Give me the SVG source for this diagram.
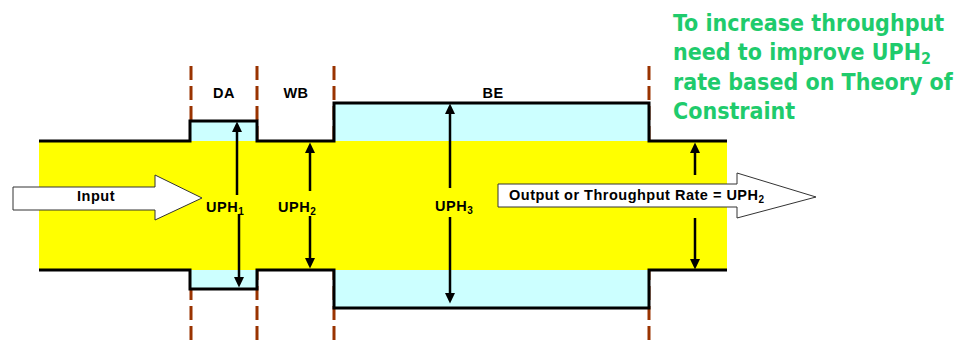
<svg xmlns="http://www.w3.org/2000/svg" width="957" height="343" viewBox="0 0 957 343">
<defs>
<marker id="ah" markerUnits="userSpaceOnUse" markerWidth="11" markerHeight="10" refX="0" refY="5" orient="auto" overflow="visible">
<path d="M0,0 L10.5,5 L0,10 Z" fill="#000"/>
</marker>
<style>
.dash{stroke:#993300;stroke-width:3;stroke-dasharray:14 6;fill:none}
.edge{stroke:#000;stroke-width:3;fill:none;stroke-linejoin:miter}
.lbl{font-family:"Liberation Sans",Arial,sans-serif;font-weight:bold;font-size:14.5px;letter-spacing:0.5px;fill:#000}
.sub{font-size:10px;letter-spacing:0}
.blk{fill:#fff;stroke:#333;stroke-width:1}
.uph{stroke:#000;stroke-width:2.5;fill:none;marker-end:url(#ah)}
.note{font-family:"DejaVu Sans Condensed","DejaVu Sans",sans-serif;font-stretch:condensed;font-weight:bold;font-size:23px;fill:#1FCB6C}
</style>
</defs>
<rect width="957" height="343" fill="#fff"/>
<g id="dividers">
<line class="dash" x1="191" y1="66" x2="191" y2="343"/>
<line class="dash" x1="257" y1="66" x2="257" y2="343"/>
<line class="dash" x1="334" y1="66" x2="334" y2="343"/>
<line class="dash" x1="649" y1="66" x2="649" y2="343"/>
</g>
<g id="pipe">
<rect x="190" y="121" width="67" height="168" fill="#CCFFFF"/>
<rect x="334" y="103" width="315" height="205" fill="#CCFFFF"/>
<rect x="39" y="141" width="688" height="129" fill="#FFFF00"/>
<path class="edge" d="M39,141 H190 V121 H257 V141 H334 V103 H649 V141 H727"/>
<path class="edge" d="M39,270 H190 V289 H257 V270 H334 V308 H649 V270 H727"/>
</g>
<g id="stage-da"><text class="lbl" x="224" y="98" text-anchor="middle">DA</text></g>
<g id="stage-wb"><text class="lbl" x="296" y="98" text-anchor="middle">WB</text></g>
<g id="stage-be"><text class="lbl" x="493" y="98" text-anchor="middle">BE</text></g>
<g id="input">
<path class="blk" d="M13,187 H155 V175 L202,198 L155,220 V210 H13 Z"/>
<text class="lbl" x="96" y="201" text-anchor="middle">Input</text>
</g>
<g id="output">
<path class="blk" d="M498,184 H737 V173 L816,197 L737,218 V207 H498 Z"/>
<text class="lbl" x="509" y="200">Output or Throughput Rate = UPH<tspan class="sub" dy="3">2</tspan></text>
</g>
<g id="connectors">
<line class="uph" x1="237" y1="195" x2="237" y2="132"/>
<line class="uph" x1="239" y1="214" x2="239" y2="277"/>
<line class="uph" x1="310" y1="191" x2="310" y2="153"/>
<line class="uph" x1="310" y1="216" x2="310" y2="258"/>
<line class="uph" x1="450" y1="188" x2="450" y2="114"/>
<line class="uph" x1="450" y1="217" x2="450" y2="293"/>
<line class="uph" x1="695" y1="175" x2="695" y2="153"/>
<line class="uph" x1="695" y1="218" x2="695" y2="259"/>
</g>
<g id="uph-labels">
<text class="lbl" x="206" y="212">UPH<tspan class="sub" dy="3">1</tspan></text>
<text class="lbl" x="278" y="212">UPH<tspan class="sub" dy="3">2</tspan></text>
<text class="lbl" x="435" y="211">UPH<tspan class="sub" dy="3">3</tspan></text>
</g>
<g id="note">
<text class="note" x="673" y="31">To increase throughput</text>
<text class="note" x="673" y="60">need to improve UPH<tspan font-size="16px" dy="4">2</tspan></text>
<text class="note" x="673" y="90">rate based on Theory of</text>
<text class="note" x="673" y="119">Constraint</text>
</g>
</svg>
